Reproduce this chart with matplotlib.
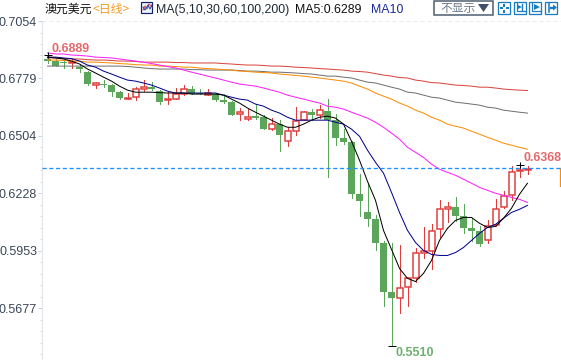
import matplotlib
matplotlib.use("Agg")
import numpy as np
import matplotlib.pyplot as plt
from matplotlib.patches import Rectangle

# ---------- data (prices) ----------
opens = [.6872,.6862,.6857,.6855,.6833,.6809,.6747,.6752,.6747,.6713,.6680,.6689,.6728,.6737,.6718,.6675,.6680,.6704,.6728,.6709,
         .6699,.6704,.6675,.6665,.6608,.6584,.6598,.6593,.6536,.6560,.6478,.6526,.6579,.6617,.6603,.6622,.6579,.6493,.6474,.6224,
         .6137,.6104,.5989,.5758,.5729,.5782,.5825,.5945,.5950,.6056,.6152,.6161,.6118,.6061,.6046,.6003,.6075,.6161,.6219,.6334,.6339]
highs = [.6891,.6872,.6867,.6872,.6848,.6814,.6761,.6771,.6752,.6718,.6709,.6737,.6771,.6761,.6723,.6713,.6733,.6747,.6742,.6728,
         .6728,.6709,.6704,.6670,.6637,.6632,.6656,.6603,.6589,.6579,.6545,.6642,.6622,.6632,.6651,.6680,.6608,.6536,.6478,.6320,
         .6277,.6123,.5998,.5989,.5979,.5830,.5965,.6065,.6080,.6195,.6185,.6209,.6176,.6109,.6070,.6099,.6200,.6238,.6358,.6364,.6358]
lows = [.6853,.6838,.6829,.6829,.6809,.6747,.6733,.6737,.6694,.6680,.6680,.6675,.6718,.6723,.6656,.6656,.6680,.6699,.6704,.6704,
        .6699,.6670,.6661,.6603,.6579,.6579,.6584,.6536,.6531,.6430,.6454,.6507,.6579,.6579,.6589,.6305,.6459,.6464,.6205,.6118,
        .6070,.5955,.5691,.5499,.5657,.5691,.5806,.5921,.5864,.6017,.6089,.6094,.6037,.5998,.5974,.5989,.6070,.6157,.6195,.6305,.6320]
closes = [.6862,.6838,.6853,.6857,.6824,.6752,.6757,.6747,.6713,.6685,.6685,.6728,.6737,.6728,.6665,.6680,.6704,.6728,.6704,.6704,
          .6709,.6675,.6665,.6603,.6617,.6593,.6589,.6536,.6560,.6507,.6526,.6574,.6617,.6603,.6627,.6579,.6493,.6474,.6224,.6190,
          .6104,.5989,.5758,.5729,.5773,.5821,.5945,.5950,.6046,.6152,.6161,.6118,.6061,.6046,.5984,.6070,.6152,.6214,.6329,.6339,.6344]

ma5 = [.6881,.6877,.6872,.6862,.6848,.6824,.6805,.6785,.6766,.6742,.6723,.6713,.6713,.6713,.6711,.6709,.6709,.6709,.6704,.6704,
       .6704,.6704,.6699,.6680,.6661,.6637,.6617,.6598,.6579,.6560,.6545,.6545,.6560,.6579,.6593,.6598,.6589,.6560,.6478,.6387,
       .6286,.6195,.6051,.5960,.5869,.5821,.5806,.5845,.5907,.6003,.6061,.6099,.6113,.6113,.6085,.6065,.6070,.6109,.6157,.6224,.6277]
ma10 = [.6881,.6881,.6877,.6874,.6862,.6843,.6833,.6814,.6800,.6785,.6771,.6766,.6757,.6747,.6733,.6718,.6709,.6709,.6709,.6709,
        .6709,.6709,.6699,.6689,.6680,.6675,.6656,.6646,.6627,.6613,.6593,.6579,.6579,.6579,.6579,.6579,.6569,.6560,.6536,.6502,
        .6435,.6377,.6325,.6233,.6137,.6051,.5993,.5955,.5936,.5931,.5931,.5945,.5969,.6003,.6037,.6065,.6080,.6109,.6137,.6152,.6171]
ma30 = [.6901,.6896,.6896,.6891,.6889,.6886,.6881,.6879,.6877,.6872,.6867,.6862,.6857,.6850,.6843,.6836,.6829,.6819,.6809,.6800,
        .6790,.6781,.6771,.6761,.6752,.6747,.6742,.6733,.6723,.6713,.6699,.6689,.6680,.6670,.6661,.6646,.6641,.6632,.6617,.6603,
        .6589,.6569,.6545,.6517,.6488,.6449,.6425,.6401,.6368,.6344,.6329,.6315,.6296,.6277,.6257,.6243,.6229,.6219,.6209,.6200,.6185]
ma60 = [.6867,.6867,.6865,.6862,.6862,.6857,.6857,.6855,.6853,.6850,.6848,.6845,.6843,.6843,.6838,.6838,.6836,.6833,.6833,.6829,
        .6826,.6824,.6821,.6819,.6814,.6812,.6809,.6807,.6805,.6800,.6797,.6793,.6790,.6785,.6781,.6776,.6771,.6766,.6757,.6742,
        .6728,.6709,.6694,.6680,.6661,.6646,.6627,.6613,.6593,.6579,.6560,.6550,.6541,.6526,.6512,.6497,.6483,.6469,.6459,.6449,.6440]
ma100 = [.6838,.6838,.6838,.6838,.6838,.6838,.6838,.6838,.6838,.6838,.6836,.6833,.6829,.6826,.6824,.6824,.6824,.6824,.6821,.6821,
         .6819,.6819,.6819,.6819,.6817,.6814,.6814,.6812,.6809,.6809,.6807,.6805,.6802,.6800,.6795,.6790,.6790,.6785,.6781,.6771,
         .6761,.6757,.6747,.6737,.6728,.6713,.6709,.6699,.6689,.6685,.6675,.6665,.6661,.6656,.6651,.6641,.6637,.6627,.6622,.6617,.6613]
ma200 = [.6877,.6877,.6874,.6872,.6872,.6869,.6867,.6867,.6865,.6862,.6862,.6860,.6857,.6857,.6857,.6857,.6855,.6855,.6853,.6853,
         .6853,.6853,.6850,.6848,.6845,.6843,.6843,.6841,.6838,.6838,.6836,.6833,.6831,.6829,.6826,.6824,.6821,.6819,.6814,.6812,
         .6809,.6802,.6795,.6790,.6783,.6781,.6771,.6766,.6759,.6757,.6752,.6747,.6745,.6742,.6737,.6737,.6733,.6728,.6725,.6723,.6721]

y_ticks = [.7054, .6779, .6504, .6228, .5953, .5677]
y_tick_labels = ["0.7054", "0.6779", "0.6504", "0.6228", "0.5953", "0.5677"]
last_line_price = .6350
next_bar_top, next_bar_bottom = .6350, .6264
max_label, max_index, max_price = "0.6889", 0, .6891
last_label = "0.6368"
min_label, min_index, min_price = "0.5510", 43, .5499
high_mark_index, high_mark_price = 59, .6364

title_name = "澳元美元"
title_period = "<日线>"
ma_title = "MA(5,10,30,60,100,200)"
ma5_text = "MA5:0.6289"
ma10_text = "MA10"
button_text = "不显示"

# ---------- styles ----------
GREEN = "#5ca65c"
RED = "#e03c3c"
W, H = 561, 360
LATIN = "Liberation Sans"
CJK = ["Noto Sans CJK SC", "DejaVu Sans"]
PX = 0.72

fig = plt.figure(figsize=(W / 100, H / 100), dpi=100, facecolor="white")
ax = fig.add_axes([42 / W, 0, 1 - 42 / W, 1])
ax.set_facecolor("none")

# ---------- scales: index -> 8 px per bar, price -> fixed px per unit ----------
n = len(closes)
idx = np.arange(n)
ax.set_xlim((42 - 47.5) / 8, (W - 47.5) / 8)
ax.set_ylim(.71546 - H * .000479, .71546)

o, h, l, c = map(np.array, (opens, highs, lows, closes))
up = c >= o
colors = [RED if u else GREEN for u in up]

# reference and grid lines
ax.axhline(y_ticks[0], color="#e9ebee", lw=PX, ls=(0, (4, 3)), zorder=1)
ax.axhline(last_line_price, color="#1e90ff", lw=PX * 1.3, ls=(0, (3.2, 2)), zorder=6)

# wicks
ax.vlines(idx, l, h, colors=colors, lw=PX, antialiased=False, zorder=2)
# bodies
ax.bar(idx[~up], (o - c)[~up], bottom=c[~up], width=7 / 8, color=GREEN, edgecolor=GREEN,
       lw=0, antialiased=False, zorder=3)
bars = ax.bar(idx[up], np.maximum((c - o)[up], .0003), bottom=o[up], width=6 / 8, facecolor="white", edgecolor=RED,
              lw=PX * 1.5, zorder=3)
for b in bars:
    b.set_snap(True)

# moving averages
for series, col in ((ma200, "#d8443c"), (ma100, "#707070"), (ma60, "#ff8a00"),
                    (ma30, "#ff1cff"), (ma10, "#00008b"), (ma5, "#000000")):
    ax.plot(idx, series, color=col, lw=PX, zorder=5)

# next bar fragment on the right edge
ax.plot([(560 - 47.5) / 8] * 2, [next_bar_top, next_bar_bottom], color="#ff8c00", lw=PX * 1.2, clip_on=True, zorder=4)

# high / low crosses
ax.plot([max_index, high_mark_index, min_index], [max_price, high_mark_price, min_price], ls="none",
        marker="_", ms=6, mew=PX, color="black", zorder=7)
ax.plot([max_index, high_mark_index], [max_price, high_mark_price], ls="none",
        marker="|", ms=5, mew=PX, color="black", zorder=7)

# axis
for s in ("top", "right", "bottom"):
    ax.spines[s].set_visible(False)
ax.spines["left"].set_color("#e2e5ea")
ax.spines["left"].set_linewidth(PX * 1.2)
ax.spines["left"].set_bounds(ax.get_ylim()[0], y_ticks[0])
ax.set_xticks([])
ax.set_yticks(y_ticks)
ax.set_yticklabels(y_tick_labels, family=LATIN, fontsize=9.0, color="#3a4658")
step = (y_ticks[0] - y_ticks[-1]) / 25
ax.set_yticks(y_ticks[0] - step * np.arange(1, 30), minor=True)
ax.tick_params(axis="y", which="major", length=3, width=PX, color="#bcd2e6", pad=0.6)
ax.tick_params(axis="y", which="minor", length=1.6, width=PX, color="#d6d9de")
ax.set_ylim(.71546 - H * .000479, .71546)

# price labels
ax.annotate(max_label, (max_index, max_price), xytext=(52, H - 49), textcoords="figure pixels",
            family=LATIN, fontsize=9.0, color="#e2595c", va="center", ha="left", fontweight="bold", zorder=8,
            alpha=.9)
ax.annotate(last_label, (n - 1, closes[-1]), xytext=(523, H - 158), textcoords="figure pixels",
            family=LATIN, fontsize=8.8, color="#e2595c", va="center", ha="left", fontweight="bold", zorder=8,
            alpha=.9)
ax.annotate(min_label, (min_index, min_price), xytext=(396, H - 353), textcoords="figure pixels",
            family=LATIN, fontsize=9.0, color="#5da860", va="center", ha="left", fontweight="bold", zorder=8,
            alpha=.9)

# ---------- header in pixel coordinates ----------
hd = fig.add_axes([0, 0, 1, 1])
hd.set_xlim(0, W)
hd.set_ylim(H, 0)
hd.axis("off")
hd.patch.set_alpha(0)

hd.text(45, 9.5, title_name, family=CJK, fontsize=8.6, color="#111111", va="center", ha="left")
hd.text(93, 9.5, title_period, family=CJK, fontsize=8.6, color="#f59a23", va="center", ha="left")
hd.text(156, 10, ma_title, family=LATIN, fontsize=8.9, color="#1e2a38", va="center", ha="left")
hd.text(295, 10, ma5_text, family=LATIN, fontsize=8.9, color="#111111", va="center", ha="left")
hd.text(371, 10, ma10_text, family=LATIN, fontsize=8.9, color="#1a2a9c", va="center", ha="left")

# indicator icon
hd.add_patch(Rectangle((141.5, 1.5), 11, 11, fc="#eef3fb", ec="#14206e", lw=PX * 1.2))
hd.plot([143, 145, 147, 149, 152], [10, 6, 9, 4, 7], color="#d8443c", lw=PX)
hd.plot([143, 145, 148, 150, 152], [7, 10, 5, 9, 5], color="#2244aa", lw=PX)

# button
hd.add_patch(Rectangle((434.5, 1), 58.5, 14, fc="white", ec="#4b5a70", lw=PX * 1.5))
hd.text(440, 8.5, button_text, family=CJK, fontsize=8.5, color="#6f7c8c", va="center", ha="left")
hd.fill([478, 489, 483.5], [4, 4, 12], color="#3f5068", lw=0)

# toolbar icons
BL = "#1b7dc0"
for x0 in (498, 514, 529, 545):
    hd.add_patch(Rectangle((x0 + .5, 1.5), 12, 12, fc="white", ec=BL, lw=PX * 1.3))
# 1: cross of dots
for dx, dy, w_, h_ in ((2, 6, 3, 2), (8, 6, 3, 2), (5.5, 2.5, 2, 3), (5.5, 9, 2, 3)):
    hd.add_patch(Rectangle((498 + dx, 1 + dy), w_, h_, fc=BL, ec="none"))
# 2: axes + double bars
hd.plot([517, 517, 526], [3, 11, 11], color=BL, lw=PX * 1.2)
hd.plot([522, 522], [4, 10], color=BL, lw=PX * 1.4)
hd.fill([518, 522, 518], [5, 7, 9], color=BL, lw=0)
# 3: axes + right triangle
hd.plot([532, 532, 541], [3, 11, 11], color=BL, lw=PX * 1.2)
hd.fill([534, 540, 534], [4, 7, 10], color=BL, lw=0)
# 4: bar + right arrow
hd.plot([549, 549], [3, 12], color=BL, lw=PX * 1.6)
hd.plot([551, 554], [7.5, 7.5], color=BL, lw=PX * 2.4)
hd.fill([553, 557, 553], [4.5, 7.5, 10.5], color=BL, lw=0)

fig.savefig("out.png", dpi=100, facecolor="white")
